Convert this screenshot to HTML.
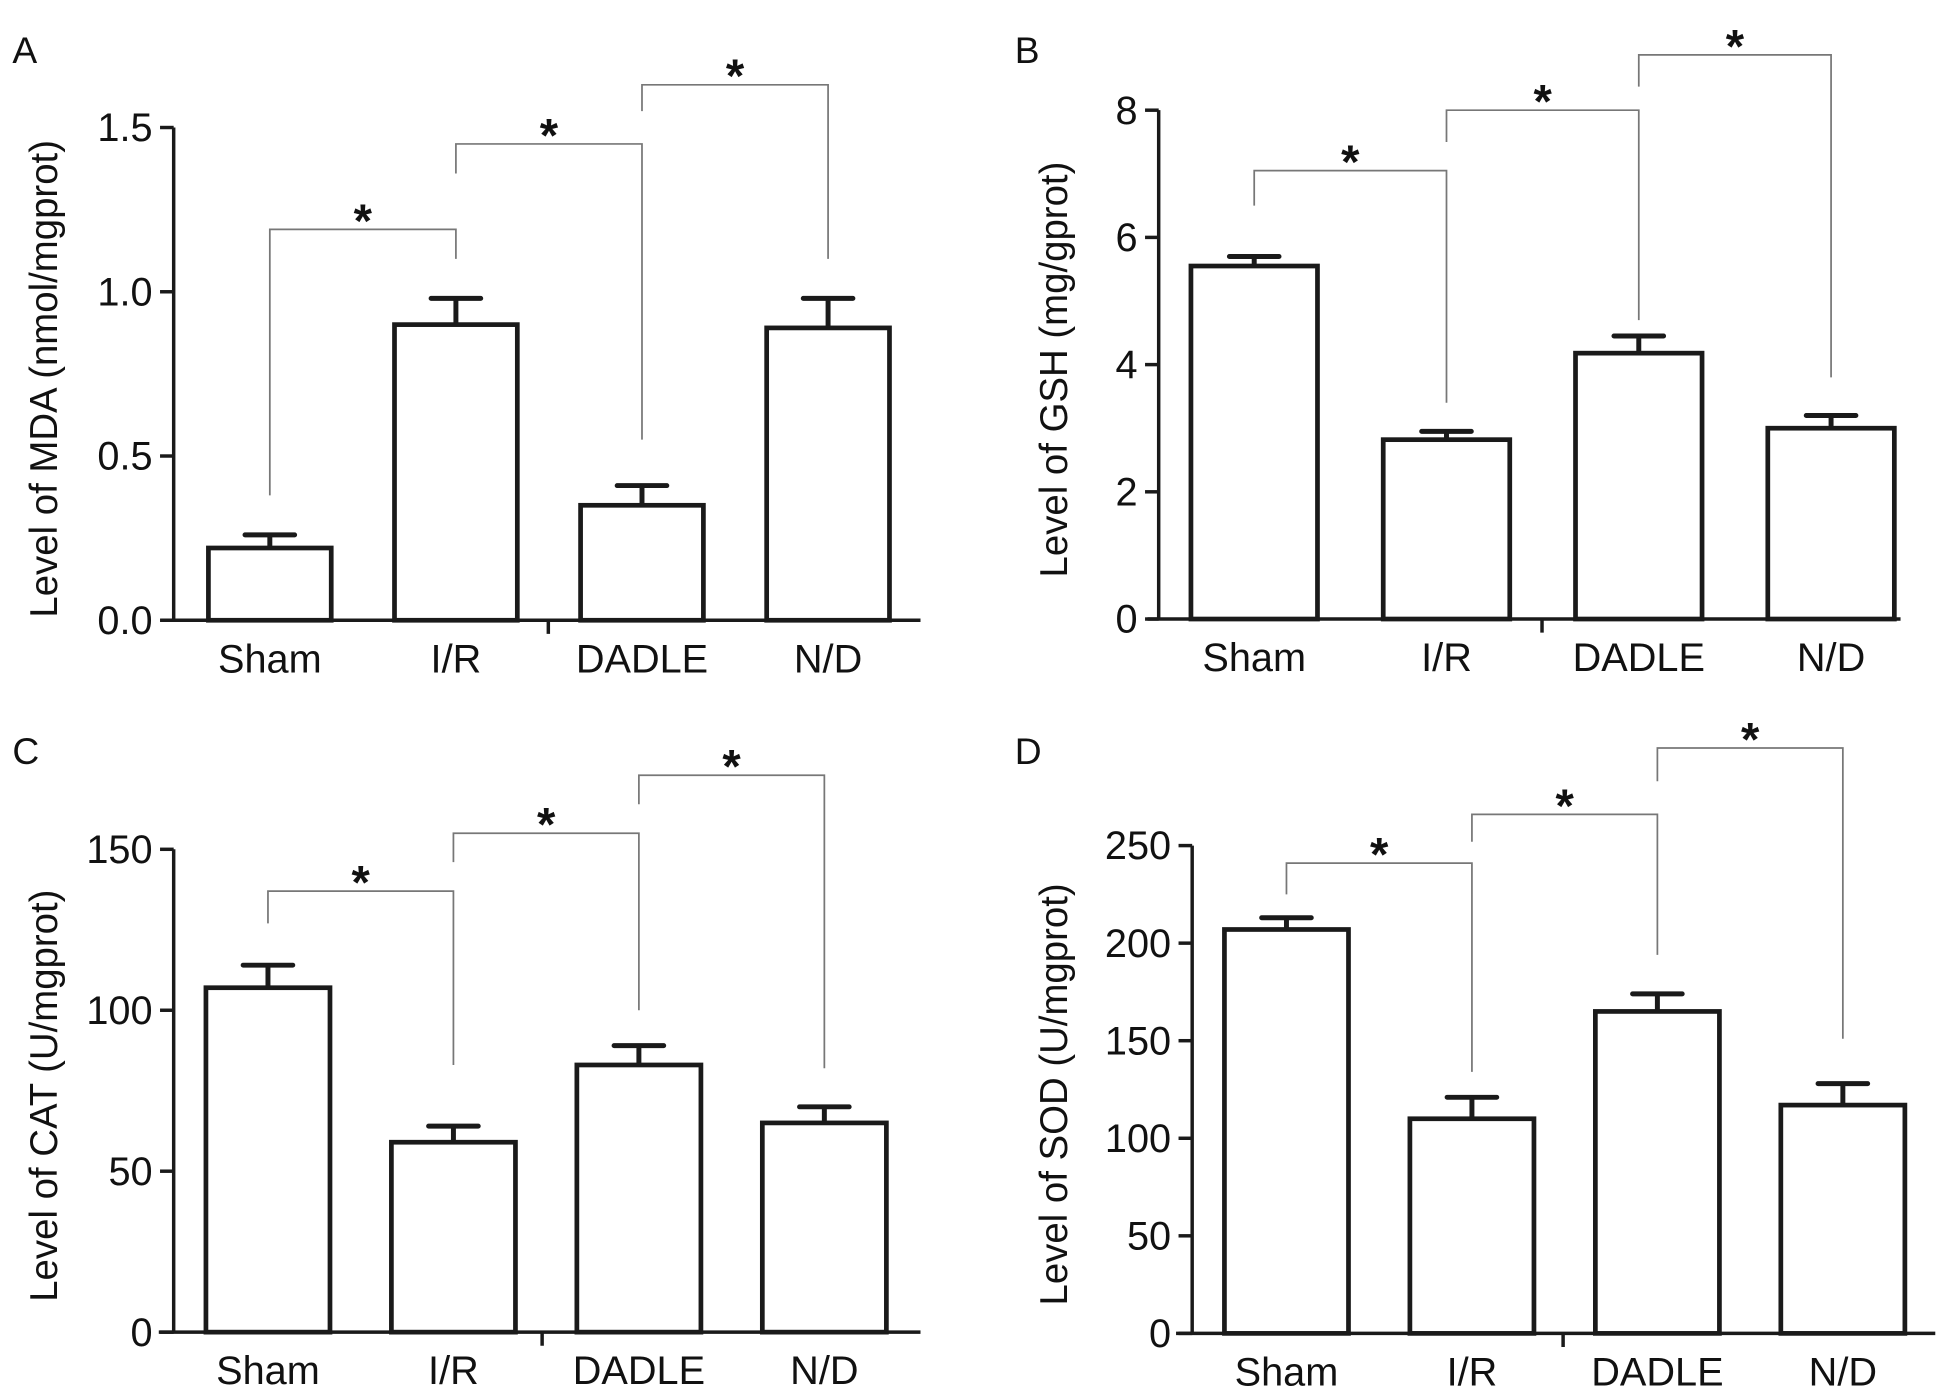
<!DOCTYPE html>
<html><head><meta charset="utf-8"><style>
html,body{margin:0;padding:0;background:#fff;}
svg{display:block;font-family:"Liberation Sans",Arial,sans-serif;}
</style></head><body>
<svg id="fig" width="1939" height="1399" viewBox="0 0 1563 1130" preserveAspectRatio="none" xmlns="http://www.w3.org/2000/svg"></svg>
<script>
const categories = ["Sham","I/R","DADLE","N/D"];
const mdaValues = [0.22,0.90,0.35,0.89];
const mdaErrors = [0.26,0.98,0.41,0.98];
const mdaTicks = ["0.0","0.5","1.0","1.5"];
const mdaTickValues = [0,0.5,1.0,1.5];
const mdaBrackets = [[0,1,1.19,0.38,1.10],[1,2,1.45,1.36,0.55],[2,3,1.63,1.55,1.10]];
const gshValues = [5.55,2.82,4.18,3.0];
const gshErrors = [5.70,2.95,4.45,3.2];
const gshTicks = ["0","2","4","6","8"];
const gshTickValues = [0,2,4,6,8];
const gshBrackets = [[0,1,7.05,6.5,3.4],[1,2,8.0,7.5,4.7],[2,3,8.87,8.37,3.8]];
const catValues = [107,59,83,65];
const catErrors = [114,64,89,70];
const catTicks = ["0","50","100","150"];
const catTickValues = [0,50,100,150];
const catBrackets = [[0,1,137,127,83],[1,2,155,146,100],[2,3,173,164,82]];
const sodValues = [207,110,165,117];
const sodErrors = [213,121,174,128];
const sodTicks = ["0","50","100","150","200","250"];
const sodTickValues = [0,50,100,150,200,250];
const sodBrackets = [[0,1,241,225,134],[1,2,266,252,194],[2,3,300,283,151]];

const NS="http://www.w3.org/2000/svg";
const svg=document.getElementById('fig');
function mk(tag,attrs,parent,text){const e=document.createElementNS(NS,tag);for(const k in attrs)e.setAttribute(k,attrs[k]);if(text!==undefined)e.textContent=text;parent.appendChild(e);return e;}

function panel(cfg){
  const g=mk('g',{},svg);
  
  
  const yS=v=>cfg.y0-(v-cfg.vmin)/(cfg.vmax-cfg.vmin)*(cfg.y0-cfg.y1);
  const xL=i=>cfg.bx0+i*cfg.step, xC=i=>xL(i)+cfg.bw/2;
  const lt=mk('text',{x:cfg.letterX,y:cfg.letterY,'font-size':30,fill:'#111'},g,cfg.letter);
  
  
  cfg.values.forEach((v,i)=>{
    const cx=xC(i);
    const eb=mk('path',{d:`M${cx},${yS(v)}V${yS(cfg.errors[i])}M${cx-20},${yS(cfg.errors[i])}H${cx+20}`,stroke:'#1a1a1a','stroke-width':4,'stroke-linecap':'round',fill:'none'},g);
    
    
    const r=mk('rect',{x:xL(i),y:yS(v),width:cfg.bw,height:cfg.y0-yS(v),fill:'#fff',stroke:'#1a1a1a','stroke-width':3.8},g);
    
    
    const t=mk('text',{x:xC(i),y:cfg.y0+42,'font-size':32,'text-anchor':'middle',fill:'#111'},g,categories[i]);
    
    
  });
  const ya=mk('line',{x1:cfg.ax,y1:yS(cfg.vmax),x2:cfg.ax,y2:cfg.y0,stroke:'#1a1a1a','stroke-width':2.8},g);
  
  
  const xa=mk('path',{d:`M${cfg.xs},${cfg.y0}H${cfg.xe}M${cfg.ct},${cfg.y0}V${cfg.y0+11}`,stroke:'#1a1a1a','stroke-width':2.8,fill:'none'},g);
  
  
  cfg.tickValues.forEach((tv,i)=>{
    const tk=mk('line',{x1:cfg.ax-11,y1:yS(tv),x2:cfg.ax,y2:yS(tv),stroke:'#1a1a1a','stroke-width':2.8},g);
    
    
    const tl=mk('text',{x:cfg.ax-17,y:yS(tv)+11,'font-size':32,'text-anchor':'end',fill:'#111'},g,cfg.ticks[i]);
    
    
  });
  const yt=mk('text',{x:0,y:0,'font-size':31,'text-anchor':'middle',fill:'#111',transform:`translate(${cfg.titleX},${(cfg.y0+yS(cfg.vmax))/2+4}) rotate(-90)`},g,cfg.title);
  
  
  cfg.brackets.forEach(b=>{
    const a=xC(b[0]),c=xC(b[1]);
    const p=mk('path',{d:`M${a},${yS(b[3])}V${yS(b[2])}H${c}V${yS(b[4])}`,stroke:'#777','stroke-width':1.4,fill:'none'},g);
    
    
    const s=mk('text',{x:(a+c)/2,y:yS(b[2])+6,'font-size':38,'font-weight':'bold','text-anchor':'middle',fill:'#111'},g,'*');
    
    
  });
}
panel({letter:'A',letterX:10,letterY:51,values:mdaValues,errors:mdaErrors,ticks:mdaTicks,tickValues:mdaTickValues,brackets:mdaBrackets,vmin:0,vmax:1.5,y0:501,y1:103,ax:140,xs:130,xe:742,ct:442,bx0:168,bw:99,step:150,titleX:46,title:'Level of MDA (nmol/mgprot)'});
panel({letter:'B',letterX:818,letterY:51,values:gshValues,errors:gshErrors,ticks:gshTicks,tickValues:gshTickValues,brackets:gshBrackets,vmin:0,vmax:8,y0:500,y1:89,ax:934,xs:925,xe:1532,ct:1243,bx0:960,bw:102,step:155,titleX:860,title:'Level of GSH (mg/gprot)'});
panel({letter:'C',letterX:10,letterY:617,values:catValues,errors:catErrors,ticks:catTicks,tickValues:catTickValues,brackets:catBrackets,vmin:0,vmax:150,y0:1076,y1:686,ax:140,xs:128,xe:742,ct:437,bx0:166,bw:100,step:149.5,titleX:46,title:'Level of CAT (U/mgprot)'});
panel({letter:'D',letterX:818,letterY:617,values:sodValues,errors:sodErrors,ticks:sodTicks,tickValues:sodTickValues,brackets:sodBrackets,vmin:0,vmax:250,y0:1077,y1:683,ax:961,xs:948,xe:1560,ct:1260,bx0:987,bw:100,step:149.5,titleX:860,title:'Level of SOD (U/mgprot)'});
</script>
</body></html>
